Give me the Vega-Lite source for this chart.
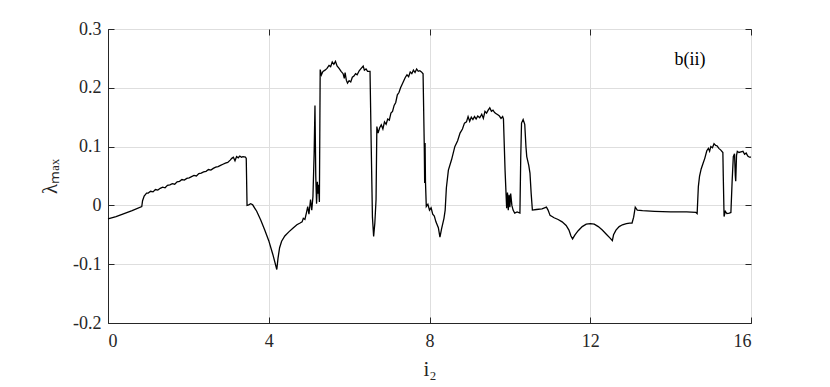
{
  "$schema": "https://vega.github.io/schema/vega-lite/v6.json",
  "width": 643,
  "height": 294,
  "autosize": {"type": "none"},
  "padding": {"left": 108, "top": 29, "right": 79, "bottom": 64},
  "background": "white",
  "config": {
    "font": "Liberation Serif",
    "view": {"stroke": "#262626", "strokeWidth": 1},
    "axis": {
      "labelFont": "Liberation Serif",
      "titleFont": "Liberation Serif",
      "labelFontSize": 18,
      "titleFontSize": 21,
      "titleFontWeight": "normal",
      "labelColor": "#262626",
      "titleColor": "#262626",
      "domainColor": "#262626",
      "domainWidth": 1,
      "tickColor": "#262626",
      "tickSize": -6,
      "gridColor": "#dedede",
      "gridWidth": 1
    }
  },
  "datasets": {
    "curve": [
    {"x": 0, "y": -0.023}, {"x": 0.2, "y": -0.019}, {"x": 0.4, "y": -0.014}, {"x": 0.6, "y": -0.009}, {"x": 0.84, "y": -0.002},
    {"x": 0.86, "y": 0.008}, {"x": 0.9, "y": 0.016}, {"x": 0.96, "y": 0.021},
    {"x": 1.0, "y": 0.021}, {"x": 1.06, "y": 0.024}, {"x": 1.12, "y": 0.023}, {"x": 1.18, "y": 0.027}, {"x": 1.24, "y": 0.026},
    {"x": 1.3, "y": 0.029}, {"x": 1.36, "y": 0.031}, {"x": 1.42, "y": 0.030}, {"x": 1.48, "y": 0.034}, {"x": 1.54, "y": 0.035},
    {"x": 1.6, "y": 0.037}, {"x": 1.66, "y": 0.036}, {"x": 1.72, "y": 0.040}, {"x": 1.78, "y": 0.041}, {"x": 1.84, "y": 0.044},
    {"x": 1.9, "y": 0.043}, {"x": 1.96, "y": 0.046}, {"x": 2.02, "y": 0.047}, {"x": 2.08, "y": 0.049}, {"x": 2.14, "y": 0.051},
    {"x": 2.2, "y": 0.050}, {"x": 2.26, "y": 0.054}, {"x": 2.32, "y": 0.055}, {"x": 2.38, "y": 0.057}, {"x": 2.44, "y": 0.058},
    {"x": 2.5, "y": 0.061}, {"x": 2.56, "y": 0.060}, {"x": 2.62, "y": 0.063}, {"x": 2.68, "y": 0.065}, {"x": 2.74, "y": 0.066},
    {"x": 2.8, "y": 0.068}, {"x": 2.86, "y": 0.070}, {"x": 2.92, "y": 0.072}, {"x": 2.98, "y": 0.073}, {"x": 3.04, "y": 0.077},
    {"x": 3.08, "y": 0.080}, {"x": 3.12, "y": 0.082}, {"x": 3.16, "y": 0.076}, {"x": 3.2, "y": 0.083}, {"x": 3.24, "y": 0.081},
    {"x": 3.28, "y": 0.084}, {"x": 3.32, "y": 0.082}, {"x": 3.36, "y": 0.083}, {"x": 3.42, "y": 0.082}, {"x": 3.44, "y": 0.080},
    {"x": 3.46, "y": 0.000}, {"x": 3.5, "y": 0.001}, {"x": 3.55, "y": 0.003}, {"x": 3.6, "y": 0.001},
    {"x": 3.7, "y": -0.010}, {"x": 3.8, "y": -0.025}, {"x": 3.9, "y": -0.042}, {"x": 4.0, "y": -0.060}, {"x": 4.1, "y": -0.083}, {"x": 4.2, "y": -0.109},
    {"x": 4.23, "y": -0.090}, {"x": 4.27, "y": -0.072}, {"x": 4.32, "y": -0.061}, {"x": 4.4, "y": -0.052}, {"x": 4.5, "y": -0.045},
    {"x": 4.6, "y": -0.039}, {"x": 4.7, "y": -0.033}, {"x": 4.78, "y": -0.030}, {"x": 4.83, "y": -0.028}, {"x": 4.86, "y": -0.022},
    {"x": 4.9, "y": -0.024}, {"x": 4.94, "y": -0.012}, {"x": 4.97, "y": -0.002}, {"x": 5.0, "y": -0.015}, {"x": 5.04, "y": 0.010},
    {"x": 5.07, "y": -0.008}, {"x": 5.1, "y": 0.015}, {"x": 5.13, "y": 0.09}, {"x": 5.15, "y": 0.17}, {"x": 5.17, "y": 0.05},
    {"x": 5.19, "y": 0.003}, {"x": 5.21, "y": 0.04}, {"x": 5.22, "y": 0.02}, {"x": 5.24, "y": 0.035}, {"x": 5.26, "y": 0.006},
    {"x": 5.28, "y": 0.231}, {"x": 5.31, "y": 0.222}, {"x": 5.35, "y": 0.228}, {"x": 5.4, "y": 0.230}, {"x": 5.45, "y": 0.233},
    {"x": 5.5, "y": 0.238}, {"x": 5.54, "y": 0.236}, {"x": 5.58, "y": 0.244}, {"x": 5.62, "y": 0.240}, {"x": 5.66, "y": 0.245},
    {"x": 5.7, "y": 0.237}, {"x": 5.75, "y": 0.233}, {"x": 5.8, "y": 0.228}, {"x": 5.85, "y": 0.224}, {"x": 5.88, "y": 0.216},
    {"x": 5.9, "y": 0.226}, {"x": 5.93, "y": 0.213}, {"x": 5.96, "y": 0.208}, {"x": 6.0, "y": 0.212}, {"x": 6.04, "y": 0.210},
    {"x": 6.08, "y": 0.218}, {"x": 6.12, "y": 0.220}, {"x": 6.16, "y": 0.224}, {"x": 6.2, "y": 0.222}, {"x": 6.25, "y": 0.229},
    {"x": 6.3, "y": 0.233}, {"x": 6.35, "y": 0.237}, {"x": 6.38, "y": 0.230}, {"x": 6.42, "y": 0.232}, {"x": 6.46, "y": 0.228},
    {"x": 6.52, "y": 0.228},
    {"x": 6.55, "y": 0.1}, {"x": 6.58, "y": -0.02}, {"x": 6.61, "y": -0.053}, {"x": 6.64, "y": -0.03}, {"x": 6.67, "y": 0.01},
    {"x": 6.69, "y": 0.134}, {"x": 6.72, "y": 0.123}, {"x": 6.76, "y": 0.132}, {"x": 6.8, "y": 0.137}, {"x": 6.84, "y": 0.130},
    {"x": 6.88, "y": 0.142}, {"x": 6.92, "y": 0.138}, {"x": 6.96, "y": 0.147}, {"x": 7.0, "y": 0.145}, {"x": 7.04, "y": 0.157},
    {"x": 7.08, "y": 0.160}, {"x": 7.12, "y": 0.170}, {"x": 7.16, "y": 0.175}, {"x": 7.2, "y": 0.188}, {"x": 7.24, "y": 0.192},
    {"x": 7.28, "y": 0.200}, {"x": 7.32, "y": 0.206}, {"x": 7.36, "y": 0.212}, {"x": 7.4, "y": 0.218}, {"x": 7.44, "y": 0.222},
    {"x": 7.48, "y": 0.219}, {"x": 7.52, "y": 0.227}, {"x": 7.56, "y": 0.224}, {"x": 7.6, "y": 0.230}, {"x": 7.64, "y": 0.226},
    {"x": 7.68, "y": 0.232}, {"x": 7.72, "y": 0.228}, {"x": 7.76, "y": 0.229}, {"x": 7.8, "y": 0.227}, {"x": 7.84, "y": 0.224},
    {"x": 7.87, "y": 0.10}, {"x": 7.88, "y": 0.038}, {"x": 7.89, "y": 0.106}, {"x": 7.9, "y": 0.04}, {"x": 7.92, "y": -0.002},
    {"x": 7.96, "y": 0.002}, {"x": 8.0, "y": -0.008}, {"x": 8.04, "y": -0.004}, {"x": 8.08, "y": -0.015}, {"x": 8.12, "y": -0.018},
    {"x": 8.16, "y": -0.028}, {"x": 8.22, "y": -0.038}, {"x": 8.26, "y": -0.054}, {"x": 8.3, "y": -0.040}, {"x": 8.36, "y": -0.022},
    {"x": 8.39, "y": -0.008}, {"x": 8.42, "y": 0.030}, {"x": 8.47, "y": 0.060}, {"x": 8.55, "y": 0.078}, {"x": 8.63, "y": 0.100},
    {"x": 8.7, "y": 0.110}, {"x": 8.76, "y": 0.123}, {"x": 8.82, "y": 0.130}, {"x": 8.87, "y": 0.140}, {"x": 8.92, "y": 0.142},
    {"x": 8.96, "y": 0.151}, {"x": 9.0, "y": 0.143}, {"x": 9.04, "y": 0.150}, {"x": 9.08, "y": 0.146}, {"x": 9.12, "y": 0.151},
    {"x": 9.16, "y": 0.147}, {"x": 9.2, "y": 0.152}, {"x": 9.25, "y": 0.149}, {"x": 9.3, "y": 0.155}, {"x": 9.34, "y": 0.148},
    {"x": 9.38, "y": 0.160}, {"x": 9.42, "y": 0.157}, {"x": 9.46, "y": 0.162}, {"x": 9.5, "y": 0.166}, {"x": 9.54, "y": 0.160},
    {"x": 9.58, "y": 0.162}, {"x": 9.62, "y": 0.158}, {"x": 9.66, "y": 0.156}, {"x": 9.7, "y": 0.154}, {"x": 9.74, "y": 0.152},
    {"x": 9.78, "y": 0.148}, {"x": 9.82, "y": 0.151}, {"x": 9.84, "y": 0.147},
    {"x": 9.88, "y": 0.06}, {"x": 9.92, "y": -0.005}, {"x": 9.94, "y": 0.022}, {"x": 9.96, "y": -0.008}, {"x": 9.98, "y": 0.018},
    {"x": 10.0, "y": -0.003}, {"x": 10.02, "y": 0.020}, {"x": 10.05, "y": 0.000}, {"x": 10.08, "y": -0.008}, {"x": 10.12, "y": -0.013},
    {"x": 10.18, "y": -0.011}, {"x": 10.25, "y": -0.013}, {"x": 10.27, "y": 0.08}, {"x": 10.29, "y": 0.140}, {"x": 10.33, "y": 0.146},
    {"x": 10.37, "y": 0.138}, {"x": 10.4, "y": 0.10}, {"x": 10.42, "y": 0.083}, {"x": 10.47, "y": 0.068}, {"x": 10.5, "y": 0.055},
    {"x": 10.53, "y": 0.02}, {"x": 10.56, "y": -0.008}, {"x": 10.66, "y": -0.007}, {"x": 10.8, "y": -0.006}, {"x": 10.91, "y": -0.003},
    {"x": 10.95, "y": -0.008}, {"x": 11.0, "y": -0.017}, {"x": 11.1, "y": -0.021}, {"x": 11.2, "y": -0.024}, {"x": 11.3, "y": -0.028},
    {"x": 11.4, "y": -0.034}, {"x": 11.47, "y": -0.042}, {"x": 11.52, "y": -0.052}, {"x": 11.56, "y": -0.057}, {"x": 11.62, "y": -0.050},
    {"x": 11.7, "y": -0.043}, {"x": 11.8, "y": -0.036}, {"x": 11.9, "y": -0.032}, {"x": 12.0, "y": -0.031}, {"x": 12.1, "y": -0.032},
    {"x": 12.2, "y": -0.036}, {"x": 12.3, "y": -0.042}, {"x": 12.4, "y": -0.049}, {"x": 12.5, "y": -0.056}, {"x": 12.55, "y": -0.060},
    {"x": 12.58, "y": -0.050}, {"x": 12.64, "y": -0.042}, {"x": 12.72, "y": -0.036}, {"x": 12.8, "y": -0.033}, {"x": 12.9, "y": -0.031},
    {"x": 12.98, "y": -0.030}, {"x": 13.04, "y": -0.030}, {"x": 13.08, "y": -0.020}, {"x": 13.12, "y": -0.003}, {"x": 13.17, "y": -0.008},
    {"x": 13.3, "y": -0.009}, {"x": 13.6, "y": -0.010}, {"x": 14.0, "y": -0.011}, {"x": 14.4, "y": -0.011}, {"x": 14.63, "y": -0.012},
    {"x": 14.66, "y": -0.014}, {"x": 14.69, "y": 0.032}, {"x": 14.72, "y": 0.050}, {"x": 14.76, "y": 0.062}, {"x": 14.81, "y": 0.072},
    {"x": 14.85, "y": 0.080}, {"x": 14.9, "y": 0.093}, {"x": 14.94, "y": 0.097}, {"x": 14.97, "y": 0.092}, {"x": 15.0, "y": 0.100},
    {"x": 15.04, "y": 0.098}, {"x": 15.08, "y": 0.105}, {"x": 15.12, "y": 0.102}, {"x": 15.16, "y": 0.101}, {"x": 15.2, "y": 0.097},
    {"x": 15.25, "y": 0.094}, {"x": 15.3, "y": 0.090}, {"x": 15.31, "y": 0.05}, {"x": 15.33, "y": -0.019}, {"x": 15.36, "y": -0.010},
    {"x": 15.4, "y": -0.014}, {"x": 15.46, "y": -0.013}, {"x": 15.5, "y": -0.012}, {"x": 15.53, "y": 0.040}, {"x": 15.56, "y": 0.083},
    {"x": 15.59, "y": 0.088}, {"x": 15.61, "y": 0.050}, {"x": 15.62, "y": 0.041}, {"x": 15.64, "y": 0.085}, {"x": 15.66, "y": 0.092},
    {"x": 15.7, "y": 0.090}, {"x": 15.75, "y": 0.091}, {"x": 15.8, "y": 0.092}, {"x": 15.84, "y": 0.087}, {"x": 15.88, "y": 0.089},
    {"x": 15.92, "y": 0.084}, {"x": 15.96, "y": 0.082}, {"x": 16.0, "y": 0.082}
    ],
    "note": [{"label": "b(ii)"}]
  },
  "layer": [
    {
      "data": {"name": "curve"},
      "mark": {"type": "line", "color": "#000000", "strokeWidth": 1.3, "interpolate": "linear"},
      "encoding": {
        "x": {"field": "x", "type": "quantitative",
              "scale": {"domain": [0, 16], "nice": false, "zero": false},
              "axis": {"orient": "bottom", "values": [0, 4, 8, 12, 16], "title": "i₂", "labelPadding": 15, "titlePadding": 8, "grid": true}},
        "y": {"field": "y", "type": "quantitative",
              "scale": {"domain": [-0.2, 0.3], "nice": false, "zero": false},
              "axis": {"orient": "left", "values": [-0.2, -0.1, 0, 0.1, 0.2, 0.3], "title": "λₘₐₓ", "labelPadding": 13, "titlePadding": 12, "grid": true,
                       "labelExpr": "datum.value == 0 ? '0' : replace(format(datum.value, '.1f'), '−', '-')"}}
      }
    },
    {
      "data": {"name": "curve"},
      "mark": {"type": "line", "opacity": 0},
      "encoding": {
        "x": {"field": "x", "type": "quantitative",
              "axis": {"orient": "top", "values": [0, 4, 8, 12, 16], "labels": false, "title": null, "grid": false, "domain": false}},
        "y": {"field": "y", "type": "quantitative",
              "axis": {"orient": "right", "values": [-0.2, -0.1, 0, 0.1, 0.2, 0.3], "labels": false, "title": null, "grid": false, "domain": false}}
      }
    },
    {
      "data": {"name": "note"},
      "mark": {"type": "text", "fontSize": 18, "font": "Liberation Serif", "color": "#000000", "align": "center", "baseline": "middle"},
      "encoding": {
        "x": {"datum": 14.48, "type": "quantitative", "axis": null},
        "y": {"datum": 0.248, "type": "quantitative", "axis": null},
        "text": {"field": "label"}
      }
    }
  ],
  "resolve": {"axis": {"x": "independent", "y": "independent"}}
}
